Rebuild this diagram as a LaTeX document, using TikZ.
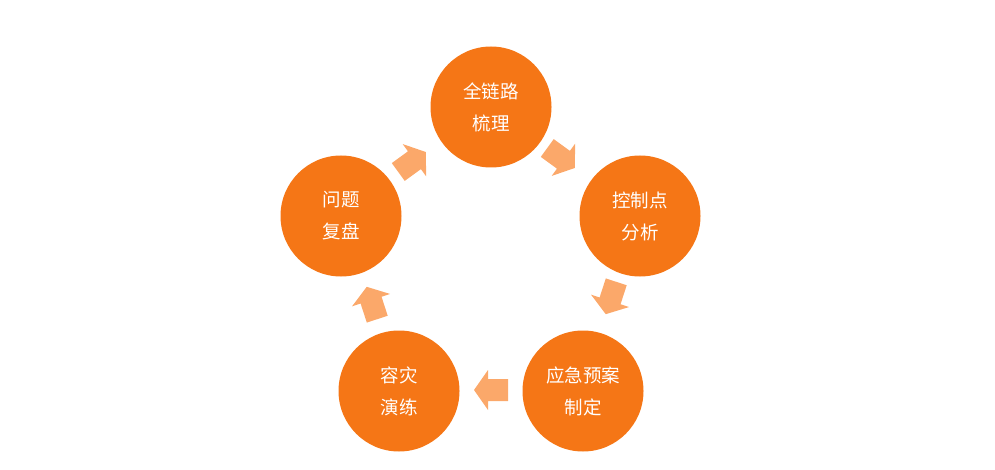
\documentclass[tikz,border=0pt]{standalone}
\usepackage{fontspec}
\newfontfamily\cjk{Noto Sans CJK SC}
\definecolor{circfill}{RGB}{245,118,22}
\definecolor{arrfill}{RGB}{251,168,106}
\tikzset{
  stage/.style={circle,fill=circfill,minimum size=121pt,inner sep=0pt,text=white,align=center,font=\cjk\fontsize{18.5}{32}\selectfont},
  blockarrow/.pic={\fill[arrfill] (-17,-11) -- (3,-11) -- (3,-20) -- (17,0) -- (3,20) -- (3,11) -- (-17,11) -- cycle;}
}
\begin{document}
\begin{tikzpicture}[x=1pt,y=1pt]
\useasboundingbox (0,0) rectangle (995,469);
\node[stage] (top) at (491,362) {全链路\\梳理};
\node[stage] (right) at (640,253) {控制点\\分析};
\node[stage] (br) at (583,78) {应急预案\\制定};
\node[stage] (bl) at (399,78) {容灾\\演练};
\node[stage] (left) at (341,253) {问题\\复盘};
\pic[rotate=36] (a1) at (412,307) {blockarrow};
\pic[rotate=-36] (a2) at (561,311) {blockarrow};
\pic[rotate=-108] (a3) at (611,171) {blockarrow};
\pic[rotate=180] (a4) at (491,79) {blockarrow};
\pic[rotate=108] (a5) at (372,166) {blockarrow};
\end{tikzpicture}
\end{document}
